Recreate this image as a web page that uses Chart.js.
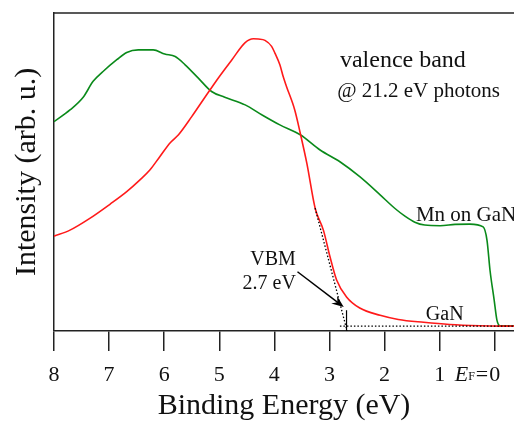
<!DOCTYPE html>
<html>
<head>
<meta charset="utf-8">
<script src="https://cdn.jsdelivr.net/npm/chart.js@4"></script>
<style>
  html, body { margin: 0; padding: 0; background: #fff; }
  canvas { display: block; }
</style>
</head>
<body>
<canvas id="vb" width="514" height="421"></canvas>
<script>
// ── Spectrum data (binding energy in eV, intensity in arb. u.) ────

const ganEnergy = [8.0, 7.71, 7.35, 6.98, 6.68, 6.44, 6.26, 6.08, 5.89, 5.74, 5.5, 5.26, 5.02, 4.77,
  4.53, 4.38, 4.29, 4.17, 4.05, 3.99, 3.9, 3.84, 3.78, 3.63, 3.53, 3.41, 3.26, 3.11, 2.99, 2.87,
  2.69, 2.45, 2.08, 1.75, 1.29, 0.82, 0.27, -0.1, -0.35];
const ganIntensity = [29.8, 31.7, 35.4, 39.9, 43.8, 47.5, 50.6, 54.8, 59.2, 61.7, 67.4, 73.5, 79.5, 85.3,
  90.7, 91.9, 91.8, 91.4, 89.5, 87.4, 83.7, 80.0, 76.9, 69.5, 62.2, 52.7, 38.6, 31.7, 23.3, 16.0,
  10.7, 7.2, 4.9, 3.6, 2.7, 2.0, 1.6, 1.5, 1.5];

const mnEnergy = [8.0, 7.71, 7.47, 7.29, 7.11, 6.86, 6.68, 6.47, 6.2, 5.99, 5.8, 5.62, 5.38, 5.14,
  4.9, 4.53, 4.23, 3.9, 3.53, 3.17, 2.81, 2.45, 2.08, 1.81, 1.63, 1.45, 1.27, 0.99, 0.72, 0.45,
  0.21, 0.14, 0.085, 0.01, -0.04, -0.1, -0.35];
const mnIntensity = [65.8, 69.5, 73.5, 78.5, 81.6, 85.3, 87.6, 88.4, 88.4, 87.1, 86.3, 83.7, 79.5, 75.3,
  73.5, 71.1, 68.0, 64.8, 61.7, 56.9, 53.2, 48.5, 42.8, 38.5, 36.1, 34.2, 33.3, 33.1, 33.5, 33.6,
  32.7, 28.5, 19.0, 9.7, 3.4, 1.6, 1.6];

const xTicks = [8, 7, 6, 5, 4, 3, 2, 1, 0];

// VBM construction: tangent, background level and marker
const tangentEnergy = [3.26, 2.68];
const tangentIntensity = [38.6, 0];
const backgroundEnergy = [2.81, -0.35];
const backgroundIntensity = [1.5, 1.5];
const vbmEnergy = [2.69, 2.69];
const vbmIntensity = [0, 6.5];
const arrowEnergy = [3.58, 2.74];
const arrowIntensity = [18.6, 7.5];

const notes = ['valence band', '@ 21.2 eV photons', 'Mn on GaN', 'GaN', 'VBM', '2.7 eV'];

// ── Helpers ───────────────────────────────────────────────────────

const pts = (xs, ys) => xs.map((x, i) => ({ x, y: ys[i] }));
const SERIF = '"Liberation Serif", "Times New Roman", serif';

const dotted = (data) => ({
  data,
  borderColor: '#000',
  borderWidth: 1.3,
  borderDash: [1.5, 2],
  pointRadius: 0,
  showLine: true,
  order: 0,
});

// ── Extras: frame, arrow, text notes, E_F label ───────────────────

const extras = {
  id: 'extras',
  afterDraw(chart) {
    const { ctx, chartArea, scales: { x, y } } = chart;
    ctx.save();

    // top frame line
    ctx.strokeStyle = '#222';
    ctx.lineWidth = 1.5;
    ctx.beginPath();
    ctx.moveTo(chartArea.left, chartArea.top);
    ctx.lineTo(chartArea.right, chartArea.top);
    ctx.stroke();

    // arrow pointing to VBM
    const x0 = x.getPixelForValue(arrowEnergy[0]), y0 = y.getPixelForValue(arrowIntensity[0]);
    const x1 = x.getPixelForValue(arrowEnergy[1]), y1 = y.getPixelForValue(arrowIntensity[1]);
    const ang = Math.atan2(y1 - y0, x1 - x0);
    ctx.strokeStyle = '#000';
    ctx.fillStyle = '#000';
    ctx.lineWidth = 1.5;
    ctx.beginPath();
    ctx.moveTo(x0, y0);
    ctx.lineTo(x1 - 6 * Math.cos(ang), y1 - 6 * Math.sin(ang));
    ctx.stroke();
    ctx.beginPath();
    ctx.moveTo(x1, y1);
    ctx.lineTo(x1 - 13 * Math.cos(ang - 0.38), y1 - 13 * Math.sin(ang - 0.38));
    ctx.lineTo(x1 - 8 * Math.cos(ang), y1 - 8 * Math.sin(ang));
    ctx.lineTo(x1 - 13 * Math.cos(ang + 0.38), y1 - 13 * Math.sin(ang + 0.38));
    ctx.closePath();
    ctx.fill();

    // text notes
    const put = (text, ex, iy, size, align) => {
      ctx.font = `${size}px ${SERIF}`;
      ctx.textAlign = align;
      ctx.textBaseline = 'alphabetic';
      ctx.fillText(text, x.getPixelForValue(ex), y.getPixelForValue(iy));
    };
    ctx.fillStyle = '#111';
    put(notes[0], 2.81, 82.9, 24, 'left');
    put(notes[1], 2.86, 73.6, 21, 'left');
    put(notes[2], 1.43, 34.7, 21, 'left');
    put(notes[3], 1.25, 3.4, 20, 'left');
    put(notes[4], 3.61, 20.7, 20, 'right');
    put(notes[5], 3.61, 13.1, 20, 'right');

    // "E_F=" in front of the 0 tick label
    const item = x.getLabelItems().find(it => it.label === '0');
    if (item) {
      const [tx, ty] = item.options.translation;
      const yy = ty + item.textOffset;
      ctx.font = `22px ${SERIF}`;
      ctx.textBaseline = item.options.textBaseline;
      ctx.textAlign = 'right';
      const half = ctx.measureText('0').width / 2;
      let cx = tx - half - 1;
      ctx.fillText('=', cx, yy);
      cx -= ctx.measureText('=').width + 1;
      const m = ctx.measureText('0');
      ctx.font = `12px ${SERIF}`;
      ctx.textBaseline = 'alphabetic';
      const base = yy + (item.options.textBaseline === 'middle' ? (m.actualBoundingBoxAscent - m.actualBoundingBoxDescent) / 2 : 0);
      ctx.fillText('F', cx, base + 4);
      cx -= ctx.measureText('F').width;
      ctx.font = `italic 22px ${SERIF}`;
      ctx.textBaseline = item.options.textBaseline;
      ctx.fillText('E', cx, yy);
    }
    ctx.restore();
  },
};

// ── Chart ─────────────────────────────────────────────────────────

const curve = (data, color, order) => ({
  data, borderColor: color, borderWidth: 1.6, pointRadius: 0, showLine: true,
  cubicInterpolationMode: 'monotone', order,
});

new Chart(document.getElementById('vb').getContext('2d'), {
  type: 'scatter',
  data: {
    datasets: [
      curve(pts(mnEnergy, mnIntensity), '#0a8a1a', 2),
      curve(pts(ganEnergy, ganIntensity), '#ff1a1a', 1),
      dotted(pts(tangentEnergy, tangentIntensity)),
      dotted(pts(backgroundEnergy, backgroundIntensity)),
      { data: pts(vbmEnergy, vbmIntensity), borderColor: '#000', borderWidth: 1.2, pointRadius: 0, showLine: true, order: 0 },
    ],
  },
  options: {
    responsive: false,
    animation: false,
    layout: { padding: { top: 13, right: 0, left: 0, bottom: 0 } },
    plugins: { legend: { display: false }, tooltip: { enabled: false } },
    scales: {
      x: {
        type: 'linear',
        reverse: true,
        min: -0.35,
        max: 8,
        afterBuildTicks: (scale) => { scale.ticks = xTicks.map(v => ({ value: v })); },
        grid: { display: true, drawOnChartArea: false, drawTicks: true, tickLength: 20, color: '#222', lineWidth: 1.5 },
        border: { display: true, color: '#222', width: 1.5 },
        ticks: { color: '#111', font: { family: SERIF, size: 22 }, padding: 11, maxRotation: 0, autoSkip: false },
        title: { display: true, text: 'Binding Energy (eV)', color: '#111', font: { family: SERIF, size: 30, lineHeight: 1 }, padding: { top: -8.3, bottom: 0 } },
      },
      y: {
        min: 0,
        max: 100,
        grid: { display: false, drawTicks: false },
        border: { display: true, color: '#222', width: 1.5 },
        ticks: { display: false },
        title: { display: true, text: 'Intensity (arb. u.)', color: '#111', font: { family: SERIF, size: 30 }, padding: { top: 9, bottom: 9 } },
      },
    },
  },
  plugins: [extras],
});
</script>
</body>
</html>
